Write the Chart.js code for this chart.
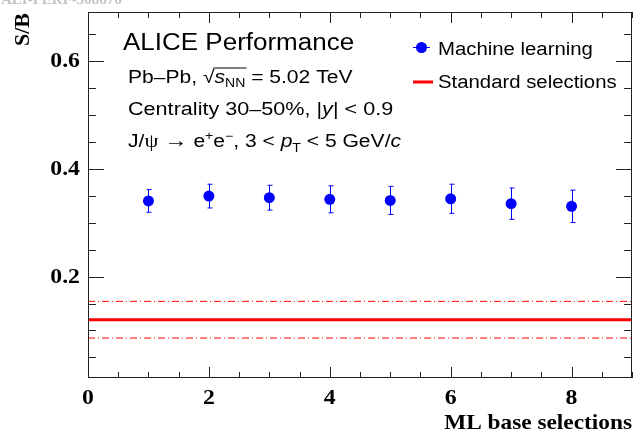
<!DOCTYPE html>
<html>
<head>
<meta charset="utf-8">
<script src="https://cdn.jsdelivr.net/npm/chart.js@4/dist/chart.umd.min.js"></script>
<style>
    html, body { margin: 0; padding: 0; background: #fff; }
    #grafico { display: block; }
</style>
</head>
<body>
<canvas id="grafico" width="638" height="433"></canvas>
<script>

// dados
const selecoes = [1, 2, 3, 4, 5, 6, 7, 8];
const sbML = [0.340, 0.349, 0.346, 0.343, 0.341, 0.344, 0.335, 0.330];
const erroML = [0.021, 0.022, 0.023, 0.025, 0.026, 0.027, 0.029, 0.030];
const sbPadrao = [0.120, 0.120];
const sbPadraoSup = [0.154, 0.154];
const sbPadraoInf = [0.086, 0.086];
const limitesX = [0, 9];
const ticksX = [0, 2, 4, 6, 8];
const ticksY = [0.2, 0.4, 0.6];

const SANS = '"Liberation Sans", Arial, Helvetica, sans-serif';
const SERIF = '"Liberation Serif", "Times New Roman", serif';
const ESTICA_SERIF = 1.08;

function pontos(xs, ys) {
    return xs.map((x, i) => ({ x: x, y: ys[i] }));
}

// texto esticado na horizontal, como na figura original
function esticado(ctx, x, y, sx, fn) {
    ctx.save();
    ctx.translate(x, y);
    ctx.scale(sx, 1);
    fn();
    ctx.restore();
}

// desenha texto com partes em fontes/posicoes diferentes
function textoRico(ctx, x0, y0, estica, partes) {
    esticado(ctx, x0, y0, estica, () => {
        let x = 0;
        partes.forEach(p => {
            ctx.font = p.font;
            const w = ctx.measureText(p.t).width;
            ctx.fillText(p.t, x, p.dy || 0);
            if (p.overline) {
                const ws = partes.filter(q => q.sob).reduce((a, q) => {
                    ctx.font = q.font;
                    return a + ctx.measureText(q.t).width;
                }, 0);
                ctx.beginPath();
                ctx.strokeStyle = '#000';
                ctx.lineWidth = 1;
                ctx.moveTo(x + w - 1, -15);
                ctx.lineTo(x + w + ws + 1, -15);
                ctx.stroke();
            }
            x += w;
        });
    });
}

const pluginEstilo = {
    id: 'estiloRoot',
    beforeDatasetsDraw(chart) {
        const ctx = chart.ctx;
        const sx = chart.scales.x, sy = chart.scales.y;
        ctx.save();
        ctx.strokeStyle = '#0000ff';
        ctx.lineWidth = 1;
        selecoes.forEach((s, i) => {
            const px = Math.round(sx.getPixelForValue(s)) + 0.5;
            const y1 = sy.getPixelForValue(sbML[i] + erroML[i]);
            const y2 = sy.getPixelForValue(sbML[i] - erroML[i]);
            ctx.beginPath();
            ctx.moveTo(px, y1);
            ctx.lineTo(px, y2);
            ctx.moveTo(px - 2, y1);
            ctx.lineTo(px + 3, y1);
            ctx.moveTo(px - 2, y2);
            ctx.lineTo(px + 3, y2);
            ctx.stroke();
        });
        ctx.restore();
    },
    afterDraw(chart) {
        const ctx = chart.ctx;
        const a = chart.chartArea;
        const sx = chart.scales.x, sy = chart.scales.y;
        ctx.save();

        // moldura
        ctx.strokeStyle = '#222';
        ctx.lineWidth = 1;
        ctx.strokeRect(a.left + 0.5, a.top + 0.5, a.right - a.left - 1, a.bottom - a.top - 1);

        // ticks do eixo x (baixo e cima)
        ctx.beginPath();
        for (let v = 0; v <= 9.001; v += 0.5) {
            const px = Math.round(sx.getPixelForValue(v)) + 0.5;
            const maior = Math.abs(v / 2 - Math.round(v / 2)) < 1e-6;
            const len = maior ? 11 : 6;
            ctx.moveTo(px, a.bottom);
            ctx.lineTo(px, a.bottom - len);
            ctx.moveTo(px, a.top);
            ctx.lineTo(px, a.top + len);
        }
        // ticks do eixo y (esquerda e direita)
        for (let v = 0.05; v <= 0.69; v += 0.05) {
            const py = Math.round(sy.getPixelForValue(v)) + 0.5;
            const maior = Math.abs(v / 0.2 - Math.round(v / 0.2)) < 1e-6;
            const len = maior ? 16 : 8;
            ctx.moveTo(a.left, py);
            ctx.lineTo(a.left + len, py);
            ctx.moveTo(a.right, py);
            ctx.lineTo(a.right - len, py);
        }
        ctx.stroke();

        // rotulos dos ticks
        ctx.fillStyle = '#000';
        ctx.font = 'bold 22px ' + SERIF;
        ctx.textAlign = 'center';
        ctx.textBaseline = 'alphabetic';
        ticksX.forEach(v => {
            esticado(ctx, sx.getPixelForValue(v), 404, ESTICA_SERIF, () => {
                ctx.fillText(String(v), 0, 0);
            });
        });
        ctx.textAlign = 'right';
        ctx.textBaseline = 'middle';
        ticksY.forEach(v => {
            esticado(ctx, 80, sy.getPixelForValue(v) + 1, ESTICA_SERIF, () => {
                ctx.fillText(v.toFixed(1), 0, 0);
            });
        });

        // titulos dos eixos
        ctx.textBaseline = 'alphabetic';
        ctx.textAlign = 'right';
        esticado(ctx, a.right, 429, 1.06, () => {
            ctx.fillText('ML base selections', 0, 0);
        });
        ctx.save();
        ctx.translate(29, 13);
        ctx.rotate(-Math.PI / 2);
        ctx.fillText('S/B', 0, 0);
        ctx.restore();

        // marca d'agua cortada no topo
        ctx.textAlign = 'left';
        ctx.fillStyle = '#c4c4c4';
        ctx.font = 'bold 15px ' + SERIF;
        ctx.fillText('ALI-PERF-308676', 1, 4);

        // textos ALICE
        ctx.fillStyle = '#000';
        ctx.font = '23px ' + SANS;
        esticado(ctx, 123, 50, 1.13, () => {
            ctx.fillText('ALICE Performance', 0, 0);
        });

        const f = '18px ' + SANS;
        const fi = 'italic 18px ' + SANS;
        const fs = '12px ' + SANS;
        textoRico(ctx, 128, 83, 1.17, [
            { t: 'Pb\u2013Pb, ', font: f },
            { t: '\u221A', font: f, overline: true },
            { t: 's', font: fi, sob: true },
            { t: 'NN', font: fs, dy: 4, sob: true },
            { t: ' = 5.02 TeV', font: f }
        ]);
        textoRico(ctx, 128, 115, 1.2, [
            { t: 'Centrality 30\u201350%, |', font: f },
            { t: 'y', font: fi },
            { t: '| < 0.9', font: f }
        ]);
        textoRico(ctx, 128, 147, 1.17, [
            { t: 'J/', font: f },
            { t: '\u03C8', font: '19px ' + SERIF },
            { t: ' ', font: f },
            { t: '\u2192', font: '20px ' + SERIF },
            { t: ' e', font: f },
            { t: '+', font: fs, dy: -7 },
            { t: 'e', font: f },
            { t: '\u2212', font: fs, dy: -7 },
            { t: ', 3 < ', font: f },
            { t: 'p', font: fi },
            { t: 'T', font: fs, dy: 5 },
            { t: ' < 5 GeV/', font: f },
            { t: 'c', font: fi }
        ]);

        // legenda
        ctx.strokeStyle = '#0000ff';
        ctx.lineWidth = 1;
        ctx.beginPath();
        ctx.moveTo(413, 47.5);
        ctx.lineTo(430, 47.5);
        ctx.stroke();
        ctx.fillStyle = '#0000ff';
        ctx.beginPath();
        ctx.arc(421.5, 47.5, 5.5, 0, Math.PI * 2);
        ctx.fill();
        ctx.strokeStyle = '#ff0000';
        ctx.lineWidth = 3;
        ctx.beginPath();
        ctx.moveTo(413, 82);
        ctx.lineTo(433, 82);
        ctx.stroke();
        ctx.fillStyle = '#000';
        textoRico(ctx, 438, 55, 1.13, [{ t: 'Machine learning', font: f }]);
        textoRico(ctx, 438, 88, 1.13, [{ t: 'Standard selections', font: f }]);

        ctx.restore();
    }
};

let grafico;

document.addEventListener('DOMContentLoaded', function() {
    carregarGrafico();
});

function carregarGrafico() {
    const ctx = document.getElementById('grafico').getContext('2d');

    if (grafico) {
        grafico.destroy();
    }

    const linhaTraco = {
        borderColor: '#ff0000',
        borderWidth: 1,
        borderDash: [7, 3, 1, 3],
        pointRadius: 0,
        showLine: true,
        type: 'line',
        fill: false
    };

    grafico = new Chart(ctx, {
        type: 'scatter',
        data: {
            datasets: [
                Object.assign({ label: 'sup', data: pontos(limitesX, sbPadraoSup) }, linhaTraco),
                Object.assign({ label: 'inf', data: pontos(limitesX, sbPadraoInf) }, linhaTraco),
                {
                    label: 'Standard selections',
                    type: 'line',
                    data: pontos(limitesX, sbPadrao),
                    borderColor: '#ff0000',
                    borderWidth: 3,
                    pointRadius: 0,
                    fill: false
                },
                {
                    label: 'Machine learning',
                    data: pontos(selecoes, sbML),
                    backgroundColor: '#0000ff',
                    borderColor: '#0000ff',
                    pointRadius: 5.5,
                    borderWidth: 0
                }
            ]
        },
        options: {
            responsive: false,
            animation: false,
            layout: {
                padding: { left: 88, right: 6, top: 12, bottom: 55 }
            },
            plugins: {
                legend: { display: false },
                tooltip: { enabled: false }
            },
            scales: {
                x: { type: 'linear', min: 0, max: 9, display: false },
                y: { type: 'linear', min: 0.012, max: 0.69, display: false }
            }
        },
        plugins: [pluginEstilo]
    });
}
</script>
</body>
</html>
